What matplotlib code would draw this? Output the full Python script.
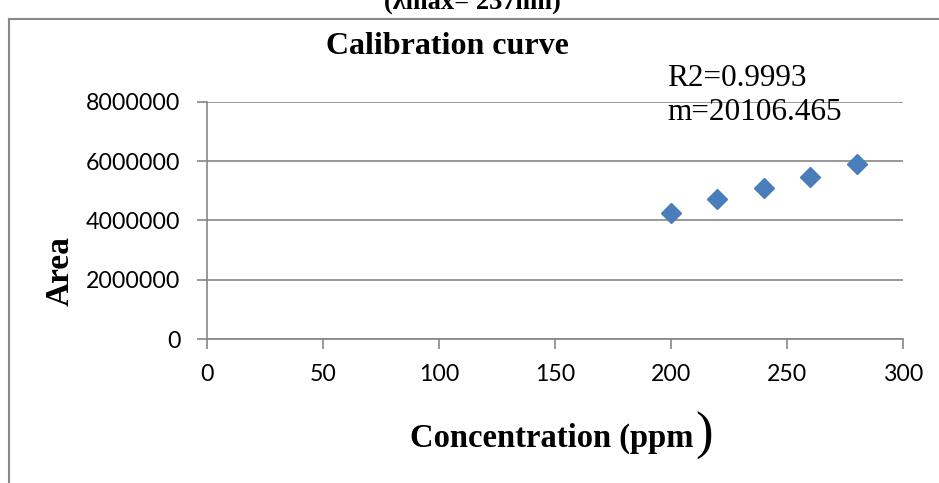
import matplotlib.pyplot as plt
from matplotlib.lines import Line2D

# data
conc = [200, 220, 240, 260, 280]
area = [4258000, 4710000, 5100000, 5470000, 5890000]
x_ticks = [0, 50, 100, 150, 200, 250, 300]
y_ticks = [0, 2000000, 4000000, 6000000, 8000000]

grid_col = '#868686'
blue = '#4A7EBB'

fig = plt.figure(figsize=(9.39, 4.83), dpi=100)
ax = fig.add_axes([207 / 939, 1 - 339 / 483, 696 / 939, 237.3 / 483])

ax.plot(conc, area, linestyle='none', marker='D', markersize=10,
        color=blue, markeredgecolor=blue, clip_on=False, zorder=3)

ax.set_xlim(0, 300)
ax.set_ylim(0, 8000000)
ax.set_xticks(x_ticks)
ax.set_yticks(y_ticks)
ax.set_xticklabels([str(v) for v in x_ticks])
ax.set_yticklabels([str(v) for v in y_ticks])
ax.yaxis.grid(True, color=grid_col, linewidth=1.2)
ax.set_axisbelow(True)

for s in ['top', 'right']:
    ax.spines[s].set_visible(False)
for s in ['left', 'bottom']:
    ax.spines[s].set_color(grid_col)
    ax.spines[s].set_linewidth(1.2)

ax.tick_params(axis='both', colors=grid_col, length=7, width=1.2,
               labelcolor='black', labelsize=16.7)
ax.tick_params(axis='x', pad=11)
ax.tick_params(axis='y', pad=12)
for lab in ax.get_xticklabels() + ax.get_yticklabels():
    lab.set_family('Lato')

# titles and labels
fig.text(447 / 939, 1 - 47 / 483, 'Calibration curve', ha='center', va='center',
         family='Liberation Serif', fontweight='bold', fontsize=23)
fig.text(472 / 939, 1 - 2 / 483, '(λmax= 237nm)', ha='center', va='center',
         family='Liberation Serif', fontweight='bold', fontsize=19)
fig.text(60 / 939, 1 - 271 / 483, 'Area', ha='center', va='center', rotation=90,
         family='Liberation Serif', fontweight='bold', fontsize=24)
fig.text(552 / 939, 1 - 438 / 483, 'Concentration (ppm', ha='center', va='center',
         family='Liberation Serif', fontweight='bold', fontsize=23.5)
fig.text(704 / 939, 1 - 436 / 483, ')', ha='center', va='center',
         family='Liberation Serif', fontsize=38)

fig.text(667 / 939, 1 - 78 / 483, 'R2=0.9993', ha='left', va='center',
         family='Liberation Serif', fontsize=22.5)
fig.text(667 / 939, 1 - 112 / 483, 'm=20106.465', ha='left', va='center',
         family='Liberation Serif', fontsize=22.5)

# chart area border (left and top edges visible)
fig.add_artist(Line2D([9 / 939, 9 / 939], [0, 1 - 19 / 483], color='#888888', lw=1.5))
fig.add_artist(Line2D([9 / 939, 1], [1 - 19 / 483, 1 - 19 / 483], color='#888888', lw=1.5))

fig.savefig('out.png', dpi=100)
